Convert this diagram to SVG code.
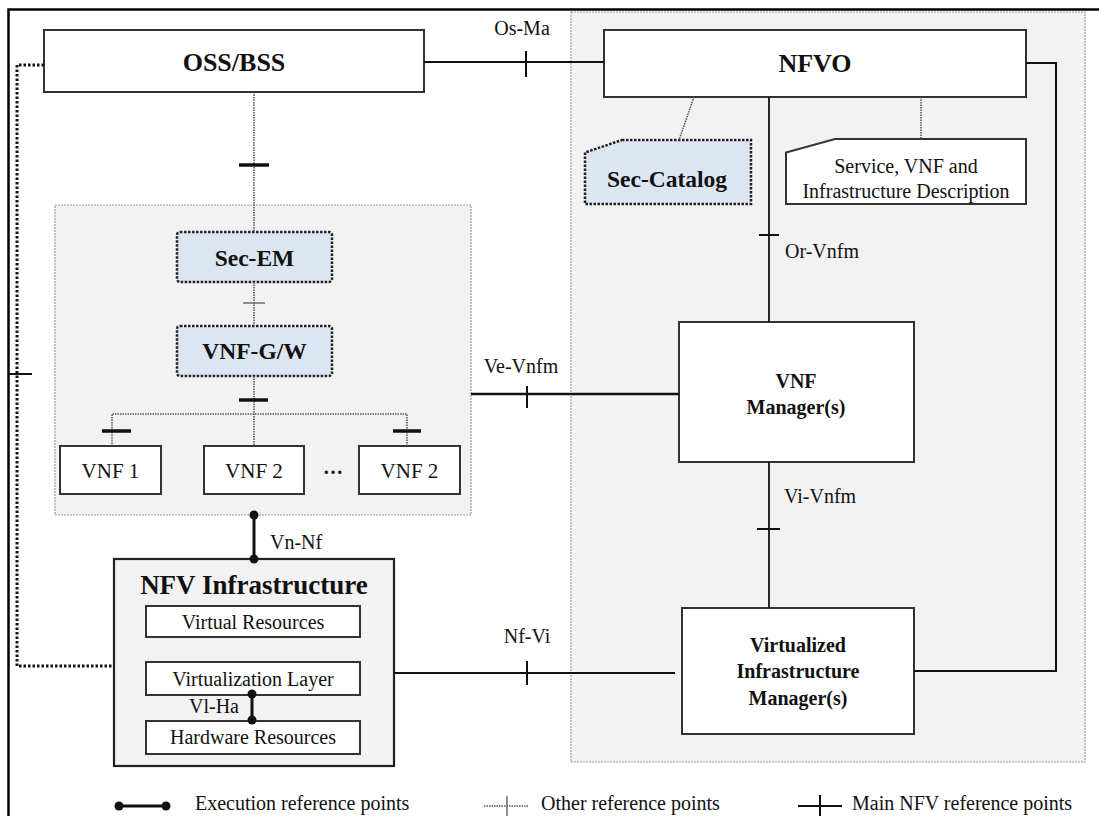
<svg xmlns="http://www.w3.org/2000/svg" width="1099" height="816" viewBox="0 0 1099 816">
<style>
text{font-family:"Liberation Serif","Times New Roman",serif;fill:#111}
.b{font-weight:bold}
.c{text-anchor:middle}
.box{fill:#fff;stroke:#333;stroke-width:2}
.panel{fill:#f2f2f2;stroke:#999;stroke-width:1.2;stroke-dasharray:2 1}
.sec{fill:#dce6f2;stroke:#222;stroke-width:2.5;stroke-dasharray:2.5 1.5}
.ln{fill:none;stroke:#111;stroke-width:1.8}
.dt{fill:none;stroke:#555;stroke-width:1.5;stroke-dasharray:1.5 1}
.dtk{fill:none;stroke:#111;stroke-width:3;stroke-dasharray:2.5 2}
.tk{stroke:#111;stroke-width:2}
.tkb{stroke:#111;stroke-width:3.5}
.tkt{stroke:#555;stroke-width:1.3}
.ex{stroke:#111;stroke-width:3}
.dot{fill:#111}
</style>
<rect width="1099" height="816" fill="#fff"/>
<g id="panels">
<rect class="panel" x="571" y="12" width="514" height="750"/>
<rect class="panel" x="55" y="205" width="416" height="310"/>
</g>
<path d="M8.5,816 V9.5 H1099" fill="none" stroke="#000" stroke-width="2.5"/>
<g id="oss">
<rect class="box" x="44" y="30" width="380" height="62"/>
<text x="234" y="71" class="b c" font-size="26">OSS/BSS</text>
</g>
<g id="nfvo">
<rect class="box" x="604" y="30" width="422" height="67"/>
<text x="815" y="72" class="b c" font-size="26">NFVO</text>
</g>
<g id="sec-catalog">
<path class="sec" d="M622,140 H751 V204 H585 V152.5 Z"/>
<text x="667" y="187" class="b c" font-size="23.5">Sec-Catalog</text>
</g>
<g id="descriptions">
<path class="box" d="M835,139 H1026 V204 H786 V152.5 Z"/>
<text x="906" y="173" class="c" font-size="20">Service, VNF and</text>
<text x="906" y="198" class="c" font-size="20">Infrastructure Description</text>
</g>
<g id="vnfm">
<rect class="box" x="679" y="322" width="235" height="140"/>
<text x="796" y="388" class="b c" font-size="20">VNF</text>
<text x="796" y="414" class="b c" font-size="20">Manager(s)</text>
</g>
<g id="vim">
<rect class="box" x="682" y="608" width="232" height="126"/>
<text x="798" y="652" class="b c" font-size="20">Virtualized</text>
<text x="798" y="678" class="b c" font-size="20">Infrastructure</text>
<text x="798" y="705" class="b c" font-size="20">Manager(s)</text>
</g>
<g id="sec-em">
<rect class="sec" x="177" y="232" width="155" height="50" rx="3"/>
<text x="254.5" y="266" class="b c" font-size="23.5">Sec-EM</text>
</g>
<g id="vnf-gw">
<rect class="sec" x="177" y="326" width="155" height="50" rx="3"/>
<text x="254.5" y="359" class="b c" font-size="23.5">VNF-G/W</text>
</g>
<g id="vnf1">
<rect class="box" x="60" y="446" width="101" height="48"/>
<text x="110.5" y="478" class="c" font-size="21">VNF 1</text>
</g>
<g id="vnf2">
<rect class="box" x="204" y="446" width="100" height="48"/>
<text x="254" y="478" class="c" font-size="21">VNF 2</text>
</g>
<g id="vnf2b">
<rect class="box" x="359" y="446" width="101" height="48"/>
<text x="409.5" y="478" class="c" font-size="21">VNF 2</text>
</g>
<text x="333" y="474" class="b c" font-size="20">…</text>
<g id="nfvi">
<rect x="114" y="559" width="280" height="207" fill="#f2f2f2" stroke="#222" stroke-width="2.2"/>
<text x="254" y="594" class="b c" font-size="27">NFV Infrastructure</text>
<rect class="box" x="146" y="606" width="214" height="31"/>
<text x="253" y="629" class="c" font-size="20">Virtual Resources</text>
<rect class="box" x="146" y="662" width="214" height="33"/>
<text x="253" y="686" class="c" font-size="20">Virtualization Layer</text>
<rect class="box" x="146" y="721" width="214" height="33"/>
<text x="253" y="744" class="c" font-size="20">Hardware Resources</text>
</g>
<g id="connectors">
<line class="ln" x1="424" y1="62" x2="604" y2="62"/>
<line class="tk" x1="526" y1="51" x2="526" y2="77"/>
<line class="dt" x1="254" y1="92" x2="254" y2="232"/>
<line class="tkb" x1="239" y1="165" x2="269" y2="165"/>
<line class="dt" x1="254" y1="282" x2="254" y2="326"/>
<line class="tkt" x1="243" y1="303" x2="265" y2="303"/>
<path class="dt" d="M254,376 V446 M112,446 V414 H407 V446"/>
<line class="tkb" x1="239" y1="400" x2="268" y2="400"/>
<line class="tkb" x1="102" y1="431" x2="131" y2="431"/>
<line class="tkb" x1="393" y1="431" x2="421" y2="431"/>
<path class="dtk" d="M44,65 H17 V666 H114"/>
<line class="tk" x1="9" y1="374" x2="32" y2="374"/>
<line x1="471" y1="394" x2="679" y2="394" stroke="#111" stroke-width="2.5"/>
<line class="tk" x1="527" y1="386" x2="527" y2="408"/>
<line class="ln" x1="769" y1="97" x2="769" y2="322"/>
<line class="tk" x1="759" y1="235" x2="779" y2="235"/>
<line class="ln" x1="769" y1="462" x2="769" y2="608"/>
<line class="tk" x1="757" y1="529" x2="780" y2="529"/>
<path d="M1026,63 H1056 V671 H914" fill="none" stroke="#111" stroke-width="2"/>
<line class="ln" x1="394" y1="673" x2="675" y2="673"/>
<line class="tk" x1="527" y1="661" x2="527" y2="685"/>
<line class="ex" x1="254" y1="515" x2="254" y2="559"/>
<circle class="dot" cx="254" cy="515" r="4.5"/>
<circle class="dot" cx="254" cy="559" r="4.5"/>
<line class="ex" x1="252" y1="694" x2="252" y2="720"/>
<circle class="dot" cx="252" cy="694" r="4.5"/>
<circle class="dot" cx="252" cy="720" r="4.5"/>
<line class="dt" x1="694" y1="97" x2="679" y2="140"/>
<line class="dt" x1="921" y1="97" x2="921" y2="139"/>
<text x="522" y="35" class="c" font-size="20">Os-Ma</text>
<text x="521" y="373" class="c" font-size="20">Ve-Vnfm</text>
<text x="785" y="258" font-size="20">Or-Vnfm</text>
<text x="784" y="503" font-size="20">Vi-Vnfm</text>
<text x="527" y="643" class="c" font-size="20">Nf-Vi</text>
<text x="270" y="549" font-size="20">Vn-Nf</text>
<text x="189" y="713" font-size="20">Vl-Ha</text>
</g>
<g id="legend">
<line class="ex" x1="119" y1="806" x2="166" y2="806"/>
<circle class="dot" cx="119" cy="806" r="4.5"/>
<circle class="dot" cx="166" cy="806" r="4.5"/>
<text x="195" y="810" font-size="20">Execution reference points</text>
<line class="dt" x1="484" y1="806" x2="529" y2="806"/>
<line class="tkt" x1="507" y1="796" x2="507" y2="817"/>
<text x="541" y="810" font-size="20">Other reference points</text>
<line class="tk" x1="798" y1="806" x2="842" y2="806"/>
<line class="tk" x1="820" y1="795" x2="820" y2="818"/>
<text x="852" y="810" font-size="20">Main NFV reference points</text>
</g>
</svg>
